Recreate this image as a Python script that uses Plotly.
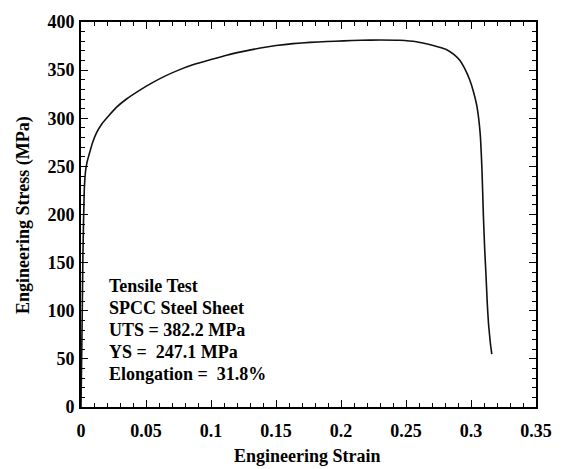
import plotly.graph_objects as go

strain = [0, 0.0008, 0.0015, 0.0025, 0.0035, 0.0046, 0.007, 0.009, 0.012, 0.016, 0.021,
          0.027, 0.035, 0.045, 0.055, 0.065, 0.075, 0.086, 0.1, 0.112, 0.125, 0.138,
          0.15, 0.163, 0.176, 0.189, 0.202, 0.215, 0.23, 0.245, 0.258, 0.268, 0.275,
          0.281, 0.287, 0.2915, 0.295, 0.299, 0.302, 0.3046, 0.307, 0.3085, 0.3095,
          0.3105, 0.3115, 0.3125, 0.3135, 0.315, 0.316]
stress = [0, 80, 160, 225, 245, 254, 266, 275, 285, 294, 302,
          311, 320, 329, 337, 344, 350, 355.5, 361, 365.5, 369.5, 373,
          375.5, 377.5, 378.8, 379.7, 380.4, 381, 381.3, 381, 379.5, 376.6, 374,
          371.5, 366, 360, 352, 340, 327, 312, 285, 244, 200,
          165, 138, 108, 86, 65, 55]

info_lines = ["Tensile Test", "SPCC Steel Sheet", "UTS = 382.2 MPa",
              "YS =  247.1 MPa", "Elongation =  31.8%"]

FONT = "Liberation Serif"
FS = 18

fig = go.Figure()
fig.add_trace(go.Scatter(x=strain, y=stress, mode="lines",
                         line=dict(color="#111111", width=1.6, shape="spline", smoothing=0.4),
                         showlegend=False))

axis_common = dict(
    showgrid=False, zeroline=False, showline=True, linecolor="black", linewidth=1.6,
    mirror="allticks", ticks="inside", ticklen=7, tickwidth=1.4, tickcolor="black",
    tickfont=dict(family=FONT, size=FS, color="black", weight="bold"),
)

fig.update_xaxes(range=[0, 0.35], tickvals=[0, 0.05, 0.1, 0.15, 0.2, 0.25, 0.3, 0.35],
                 ticktext=["0", "0.05", "0.1", "0.15", "0.2", "0.25", "0.3", "0.35"],
                 minor=dict(dtick=0.01, ticks="inside", ticklen=4, tickwidth=1.2, tickcolor="black"),
                 ticklabelstandoff=7, **axis_common)
fig.update_yaxes(range=[0, 400], dtick=50,
                 minor=dict(dtick=10, ticks="inside", ticklen=4, tickwidth=1.2, tickcolor="black"),
                 ticklabelstandoff=1, **axis_common)

fig.add_annotation(text="<b>Engineering Strain</b>", xref="paper", yref="paper",
                   x=(307 - 81) / 455, y=-(457 - 407) / 393, xanchor="center", yanchor="middle",
                   showarrow=False, font=dict(family=FONT, size=FS, color="black"))
fig.add_annotation(text="<b>Engineering Stress (MPa)</b>", xref="paper", yref="paper",
                   x=-(81 - 24) / 455, y=(407 - 211) / 393, xanchor="center", yanchor="middle",
                   showarrow=False, textangle=-90, font=dict(family=FONT, size=FS, color="black"))

for i, t in enumerate(info_lines):
    fig.add_annotation(text="<b>" + t + "</b>", xref="paper", yref="y",
                       x=(107 - 81) / 455, y=(407 - (283 + i * 22.5)) / 0.9825, xanchor="left",
                       yanchor="middle", showarrow=False,
                       font=dict(family=FONT, size=FS, color="black"))

fig.update_layout(width=565, height=469, margin=dict(l=81, r=29, t=14, b=62),
                  plot_bgcolor="white", paper_bgcolor="white")
fig.write_html("out.html", config={"displayModeBar": False},
               post_script="document.body.style.margin='0';")
